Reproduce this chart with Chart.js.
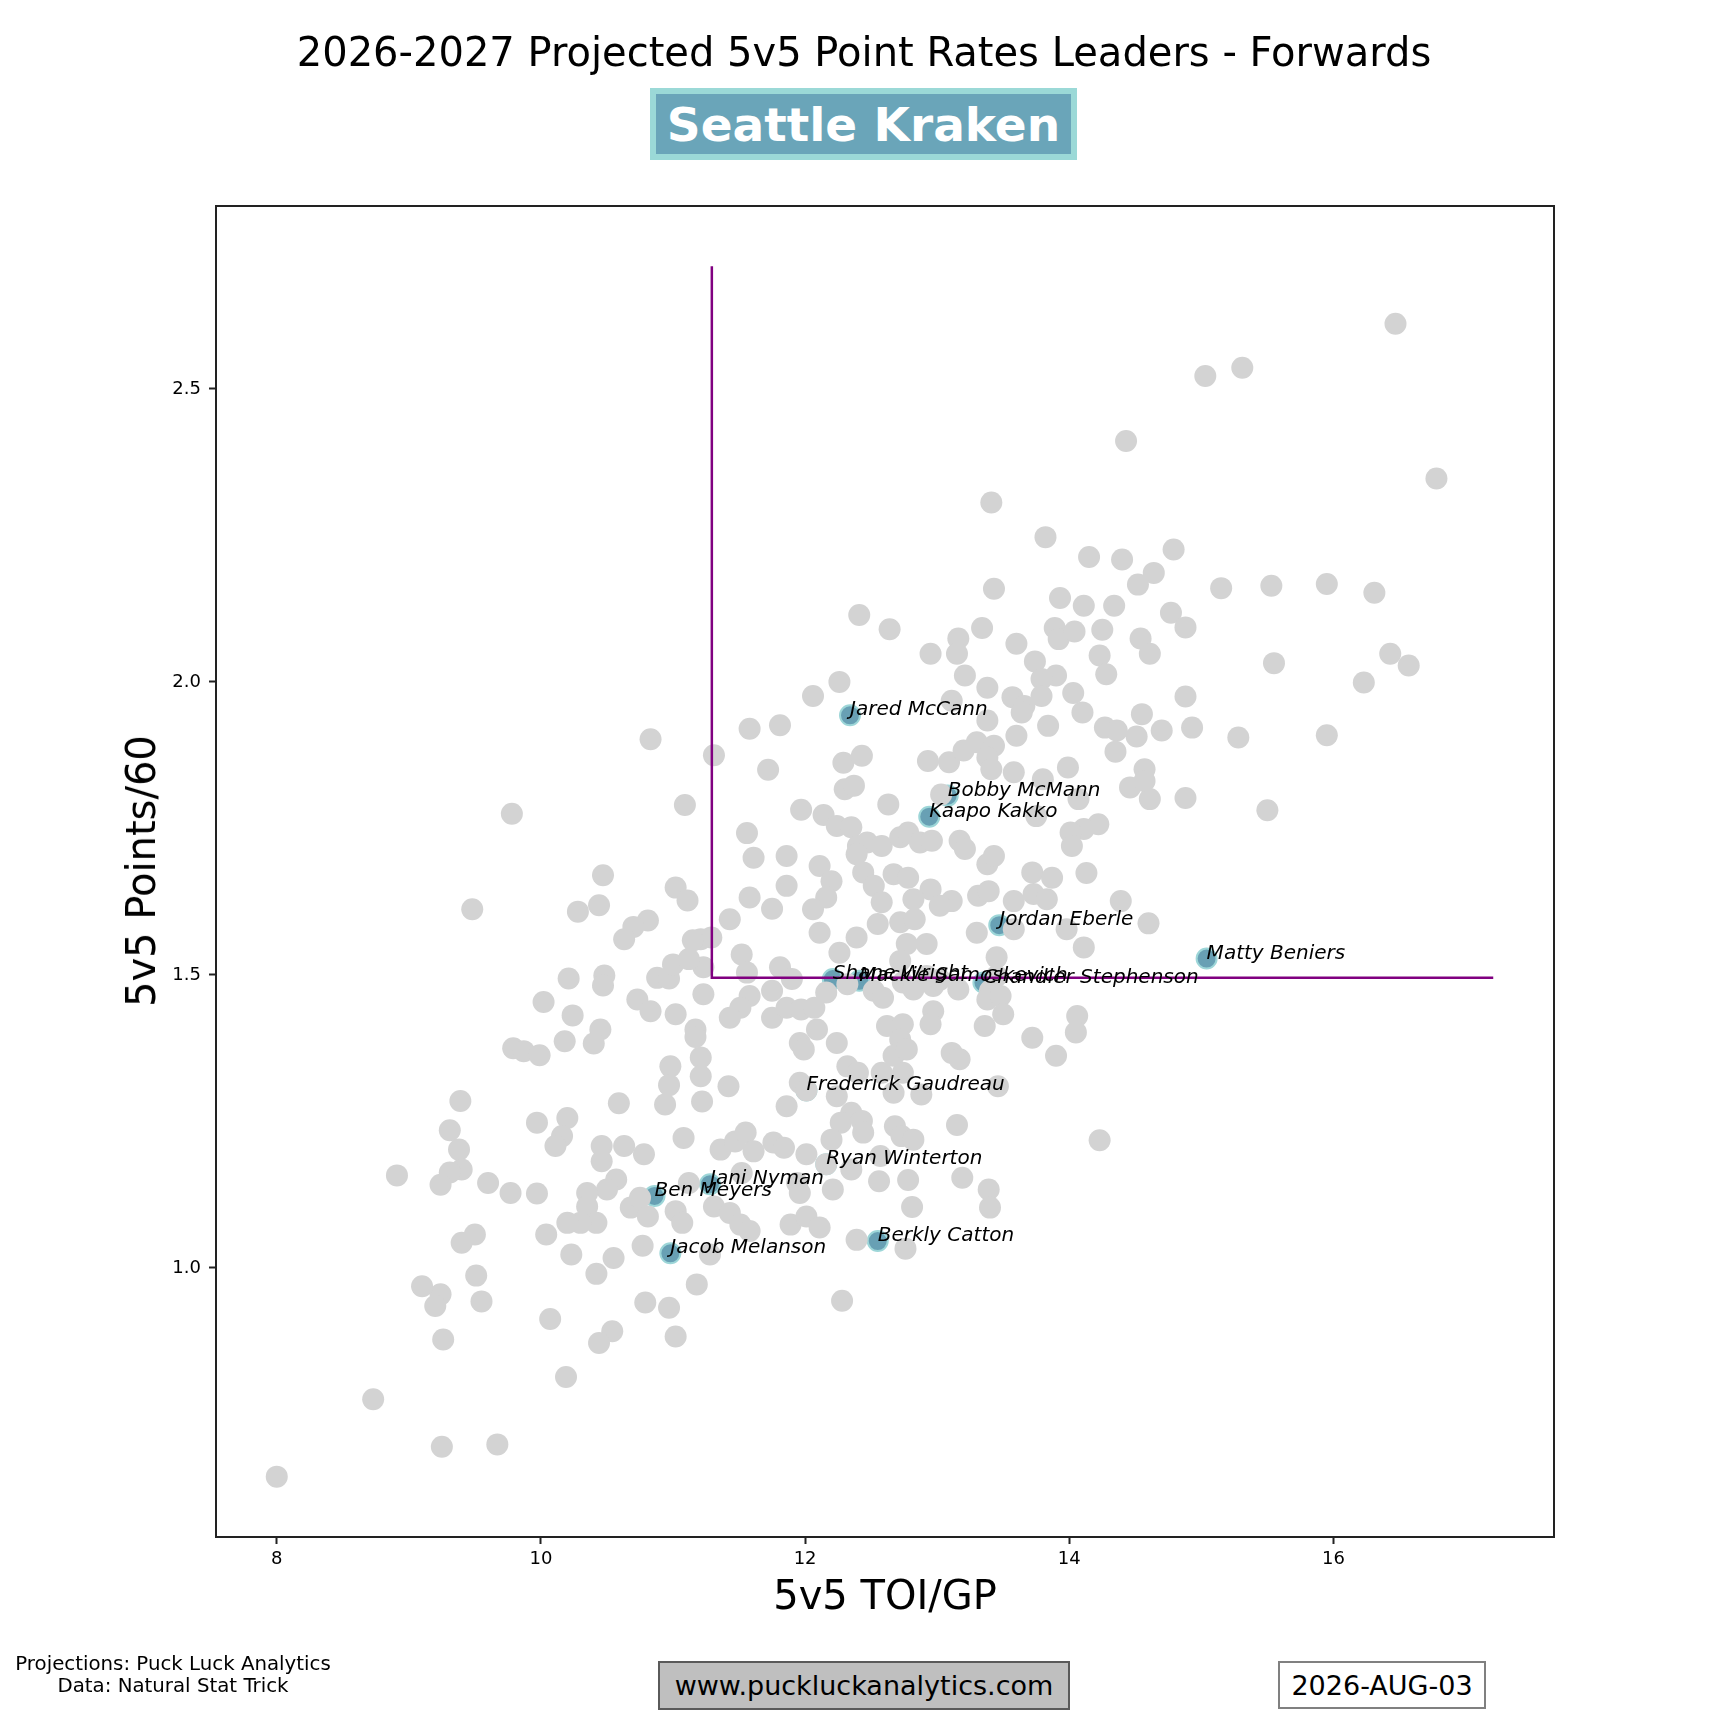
<!DOCTYPE html>
<html>
<head>
<meta charset="utf-8">
<title>Seattle Kraken - Projected 5v5 Point Rates</title>
<script src="https://cdn.jsdelivr.net/npm/chart.js@4.4.1/dist/chart.umd.min.js"></script>
<style>
  body { margin: 0; background: #fff; font-family: "DejaVu Sans", sans-serif; }
  #wrap { position: relative; width: 1728px; height: 1728px; }
  #chart { position: absolute; left: 0; top: 0; }
  .c { position: absolute; transform: translate(-50%, -50%); white-space: nowrap; color: #000; }
  #badge {
    position: absolute; left: 650px; top: 88px; width: 427px; height: 72px;
    box-sizing: border-box; border: 6px solid #9bd9d7; background: #6aa5b9;
    color: #fff; font-weight: bold; font-size: 47px;
    display: flex; align-items: center; justify-content: center;
  }
  .box {
    position: absolute; box-sizing: border-box; font-size: 27px;
    display: flex; align-items: center; justify-content: center;
  }
</style>
</head>
<body>
<div id="wrap">
  <canvas id="chart" width="1728" height="1728"></canvas>
  <div class="c" style="left:864px; top:52px; font-size:40px;">2026-2027 Projected 5v5 Point Rates Leaders - Forwards</div>
  <div id="badge">Seattle Kraken</div>
  <div class="c" style="left:885px; top:1595px; font-size:40px;">5v5 TOI/GP</div>
  <div class="c" style="left:141px; top:871px; font-size:40px; transform:translate(-50%,-50%) rotate(-90deg);">5v5 Points/60</div>
  <div class="c" style="left:173px; top:1675px; font-size:19.8px; text-align:center; line-height:22px;">Projections: Puck Luck Analytics<br>Data: Natural Stat Trick</div>
  <div class="box" style="left:658px; top:1661px; width:412px; height:49px; background:#bfbfbf; border:2px solid #5a5a5a;">www.puckluckanalytics.com</div>
  <div class="box" style="left:1278px; top:1661px; width:208px; height:48px; background:#fff; border:2px solid #808080;">2026-AUG-03</div>
</div>
<script>
// Kraken forwards (highlighted)
const teamNames = ['Jared McCann', 'Bobby McMann', 'Kaapo Kakko', 'Jordan Eberle', 'Matty Beniers',
    'Shane Wright', 'Mackie Samoskevich', 'Chandler Stephenson', 'Frederick Gaudreau', 'Ryan Winterton',
    'Jani Nyman', 'Ben Meyers', 'Jacob Melanson', 'Berkly Catton'];
const teamToi = [12.34, 13.08, 12.94, 13.47, 15.04, 12.21, 12.41, 13.35, 12.01, 12.16, 11.28, 10.86, 10.98, 12.55];
const teamPts = [1.943, 1.806, 1.770, 1.585, 1.528, 1.493, 1.490, 1.487, 1.303, 1.177, 1.143, 1.123, 1.025, 1.046];

// League average lines
const avgToi = 11.294;
const avgPts = 1.495;
const lineTopPts = 2.709;
const lineRightToi = 17.21;

// Axis ticks
const xTicks = [8, 10, 12, 14, 16];
const yTicks = [1.0, 1.5, 2.0, 2.5];

// Rest of the league [TOI/GP, Points/60]
const leaguePoints = [
    [16.47,2.611],[15.03,2.522],[15.31,2.536],[14.43,2.411],[16.78,2.347],[13.41,2.306],[13.82,2.247],[14.79,2.226],
    [14.40,2.209],[14.15,2.213],[14.64,2.186],[14.52,2.166],[13.43,2.159],[15.15,2.160],[15.53,2.164],[15.95,2.167],
    [16.31,2.152],[13.93,2.143],[14.11,2.130],[14.34,2.130],[12.41,2.114],[14.77,2.118],[14.88,2.093],[12.64,2.090],
    [13.34,2.092],[13.89,2.092],[13.92,2.073],[14.04,2.086],[14.25,2.089],[13.16,2.074],[13.15,2.048],[12.95,2.048],
    [14.54,2.074],[14.61,2.048],[14.23,2.045],[13.60,2.065],[13.74,2.035],[15.55,2.032],[16.43,2.048],[16.57,2.028],
    [13.21,2.011],[13.90,2.011],[14.28,2.013],[16.23,1.999],[13.38,1.990],[12.26,2.000],[13.79,2.005],[13.57,1.974],
    [13.66,1.959],[13.79,1.976],[14.03,1.981],[12.06,1.976],[13.11,1.968],[14.10,1.948],[14.88,1.975],
    [14.55,1.945],[14.27,1.922],[14.36,1.917],[14.51,1.907],[14.70,1.917],[14.93,1.922],[14.35,1.881],[15.28,1.905],
    [15.95,1.909],[14.57,1.851],[14.46,1.820],[14.61,1.800],[14.57,1.831],[14.88,1.802],[15.50,1.781],[14.22,1.757],
    [14.11,1.749],[14.13,1.674],[14.39,1.626],[14.60,1.588],[14.11,1.547],
    [11.58,1.920],[11.81,1.926],[13.64,1.948],[13.84,1.925],[13.38,1.934],[11.31,1.875],[11.72,1.850],[12.29,1.862],
    [12.43,1.874],[12.93,1.865],[13.09,1.863],[13.20,1.883],[13.30,1.897],[13.43,1.891],[13.38,1.871],[13.41,1.851],
    [13.60,1.908],[13.58,1.846],[13.80,1.834],[13.99,1.854],[12.30,1.817],[12.37,1.823],[12.63,1.791],[13.03,1.808],
    [11.97,1.782],[12.14,1.773],[12.24,1.754],[12.35,1.752],[11.56,1.742],[11.61,1.700],[11.86,1.703],[12.40,1.720],
    [12.47,1.726],[12.58,1.720],[12.72,1.735],[12.78,1.743],[12.87,1.726],[12.96,1.729],[12.39,1.706],[12.44,1.675],
    [12.52,1.652],[12.58,1.624],[12.11,1.686],[12.20,1.660],[12.16,1.632],[12.06,1.612],[11.86,1.652],[11.58,1.632],
    [11.75,1.613],[11.43,1.595],[11.29,1.564],[11.21,1.561],[13.17,1.729],[13.21,1.715],[13.38,1.689],[13.43,1.703],
    [12.67,1.672],[12.78,1.666],[12.95,1.646],[12.82,1.629],[13.11,1.626],[13.02,1.618],[13.31,1.635],[13.39,1.643],
    [13.58,1.626],[13.73,1.638],[13.83,1.629],[13.72,1.675],[13.87,1.666],[14.01,1.743],[14.02,1.720],[13.75,1.771],
    [14.07,1.800],[12.55,1.587],[12.72,1.590],[12.83,1.595],[12.39,1.564],[12.26,1.538],[12.11,1.572],[12.77,1.553],
    [12.92,1.553],[12.72,1.524],[13.30,1.572],[13.45,1.530],[13.58,1.578],[13.98,1.578],[11.52,1.535],[11.56,1.504],
    [11.81,1.513],[11.90,1.493],[11.23,1.513],[11.23,1.467],[11.58,1.464],[11.75,1.473],[11.51,1.444],[11.43,1.427],
    [11.75,1.427],[11.86,1.444],[11.97,1.441],[12.07,1.444],[12.16,1.470],[12.09,1.407],[11.96,1.384],[12.24,1.384],
    [12.32,1.484],[12.52,1.473],[12.59,1.461],[12.74,1.487],[12.82,1.475],[12.97,1.481],[13.16,1.475],[13.02,1.492],
    [12.92,1.498],[13.45,1.498],[13.40,1.473],[13.38,1.458],[13.48,1.464],[13.50,1.433],[13.36,1.413],[12.97,1.438],
    [12.95,1.416],[12.62,1.413],[12.74,1.416],[12.72,1.390],[12.67,1.362],[12.58,1.333],[12.74,1.333],[12.77,1.373],
    [13.11,1.367],[13.17,1.356],[13.72,1.393],[13.90,1.362],[14.06,1.430],[14.05,1.402],[11.21,1.359],[11.21,1.327],
    [11.42,1.310],[11.96,1.316],[12.32,1.344],[12.40,1.333],
    [10.21,1.494],[10.48,1.499],[10.47,1.482],[10.02,1.454],[10.24,1.431],[10.45,1.407],[10.40,1.383],[10.18,1.387],
    [9.79,1.375],[9.87,1.370],[9.99,1.363],[10.73,1.458],[10.83,1.438],[10.88,1.495],[10.97,1.494],[11.00,1.518],
    [11.12,1.527],[11.02,1.433],[11.17,1.407],[11.17,1.394],[11.99,1.373],[10.98,1.344],[10.97,1.312],[10.94,1.279],
    [11.22,1.284],[10.59,1.281],[11.86,1.276],[12.01,1.303],[9.39,1.285],[9.31,1.235],[9.38,1.202],[9.40,1.168],
    [9.31,1.163],[9.24,1.142],[9.60,1.145],[9.77,1.128],[9.97,1.127],[9.97,1.248],[10.20,1.256],[10.16,1.225],
    [10.11,1.208],[10.46,1.208],[10.46,1.182],[10.63,1.208],[10.78,1.194],[11.08,1.222],[10.57,1.151],[10.50,1.134],
    [10.35,1.128],[10.35,1.105],[10.42,1.077],[10.30,1.077],[10.20,1.077],[10.68,1.103],[10.75,1.120],[10.81,1.088],
    [11.02,1.097],[11.07,1.077],[11.12,1.145],[11.31,1.105],[11.43,1.094],[11.51,1.074],[11.58,1.063],[11.36,1.202],
    [11.47,1.216],[11.55,1.231],[11.61,1.199],[11.76,1.214],[11.84,1.205],[11.52,1.162],[11.94,1.145],[11.96,1.128],
    [11.89,1.074],[12.01,1.088],[12.01,1.194],[9.50,1.057],[9.40,1.043],[10.04,1.057],[10.23,1.023],[10.55,1.017],
    [10.77,1.038],[10.42,0.990],[11.28,1.023],[11.18,0.972],[9.51,0.987],[9.24,0.955],[9.20,0.935],[9.10,0.969],
    [9.55,0.943],[10.79,0.941],[10.97,0.932],[10.07,0.913],[10.54,0.892],[10.44,0.872],[11.02,0.883],[9.26,0.878],
    [12.24,1.293],[12.67,1.299],[12.88,1.296],[13.46,1.310],[12.35,1.265],[12.27,1.248],[12.43,1.251],[12.44,1.231],
    [12.20,1.219],[12.68,1.242],[12.73,1.225],[12.82,1.219],[13.15,1.244],[14.23,1.218],[12.35,1.168],[12.57,1.191],
    [12.56,1.148],[12.78,1.150],[12.21,1.134],[13.19,1.154],[13.39,1.134],[13.40,1.103],[12.81,1.104],[12.11,1.069],
    [12.39,1.048],[12.76,1.033],[12.28,0.944],[12.16,1.177],
    [10.83,1.902],[9.78,1.775],[11.09,1.790],[10.47,1.670],[11.02,1.649],[11.11,1.627],[10.44,1.619],[9.48,1.612],
    [10.28,1.608],[10.81,1.593],[10.70,1.582],[10.63,1.561],[11.15,1.559],
    [8.00,0.644],[8.73,0.776],[9.25,0.695],[9.67,0.699],[8.91,1.158],[10.19,0.814]
];

const teamData = teamToi.map(function(t, i) { return {x: t, y: teamPts[i]}; });
const leagueData = leaguePoints.map(function(p) { return {x: p[0], y: p[1]}; });
const avgLineData = [
    {x: avgToi, y: lineTopPts},
    {x: avgToi, y: avgPts},
    {x: lineRightToi, y: avgPts}
];

// frame round the plot + player names
const extrasPlugin = {
    id: 'extras',
    afterDatasetsDraw: function(chart) {
        const c = chart.ctx;
        const xs = chart.scales.x;
        const ys = chart.scales.y;
        c.save();
        c.fillStyle = '#000';
        c.font = 'italic 20px "DejaVu Sans"';
        c.textAlign = 'left';
        c.textBaseline = 'alphabetic';
        teamNames.forEach(function(name, i) {
            c.fillText(name, xs.getPixelForValue(teamToi[i]), ys.getPixelForValue(teamPts[i]));
        });
        const a = chart.chartArea;
        c.strokeStyle = '#222';
        c.lineWidth = 2;
        c.strokeRect(a.left, a.top, a.right - a.left, a.bottom - a.top);
        c.restore();
    }
};

const axisCommon = {
    grid: { display: true, drawOnChartArea: false, drawTicks: true, tickLength: 7, tickWidth: 2, color: '#222' },
    border: { display: true, color: '#222', width: 2 },
    title: { display: false }
};

const ctx = document.getElementById('chart').getContext('2d');
const chart = new Chart(ctx, {
    type: 'scatter',
    data: {
        datasets: [
            {
                type: 'line',
                label: 'League average',
                data: avgLineData,
                borderColor: '#800080',
                borderWidth: 2.5,
                pointRadius: 0,
                showLine: true,
                fill: false,
                tension: 0,
                order: 0
            },
            {
                label: 'League',
                data: leagueData,
                backgroundColor: '#d3d3d3',
                borderWidth: 0,
                pointRadius: 11,
                order: 1
            },
            {
                label: 'Seattle Kraken',
                data: teamData,
                backgroundColor: '#68a0b4',
                borderColor: '#9dd6d8',
                borderWidth: 2,
                pointRadius: 10,
                order: 2
            }
        ]
    },
    options: {
        responsive: false,
        devicePixelRatio: 1,
        animation: false,
        layout: { padding: { left: 0, top: 206, right: 174, bottom: 0 } },
        plugins: {
            legend: { display: false },
            tooltip: { enabled: false },
            title: { display: false }
        },
        scales: {
            x: Object.assign({}, axisCommon, {
                type: 'linear',
                min: 7.54,
                max: 17.67,
                afterBuildTicks: function(scale) {
                    scale.ticks = xTicks.map(function(v) { return {value: v}; });
                },
                afterFit: function(scale) { scale.height = 191; },
                ticks: {
                    font: { family: 'DejaVu Sans', size: 18 },
                    color: '#000',
                    padding: 5,
                    maxRotation: 0,
                    callback: function(v) { return String(v); }
                }
            }),
            y: Object.assign({}, axisCommon, {
                type: 'linear',
                min: 0.541,
                max: 2.812,
                afterBuildTicks: function(scale) {
                    scale.ticks = yTicks.map(function(v) { return {value: v}; });
                },
                afterFit: function(scale) { scale.width = 216; },
                ticks: {
                    font: { family: 'DejaVu Sans', size: 18 },
                    color: '#000',
                    padding: 8,
                    callback: function(v) { return v.toFixed(1); }
                }
            })
        }
    },
    plugins: [extrasPlugin]
});
</script>
</body>
</html>
